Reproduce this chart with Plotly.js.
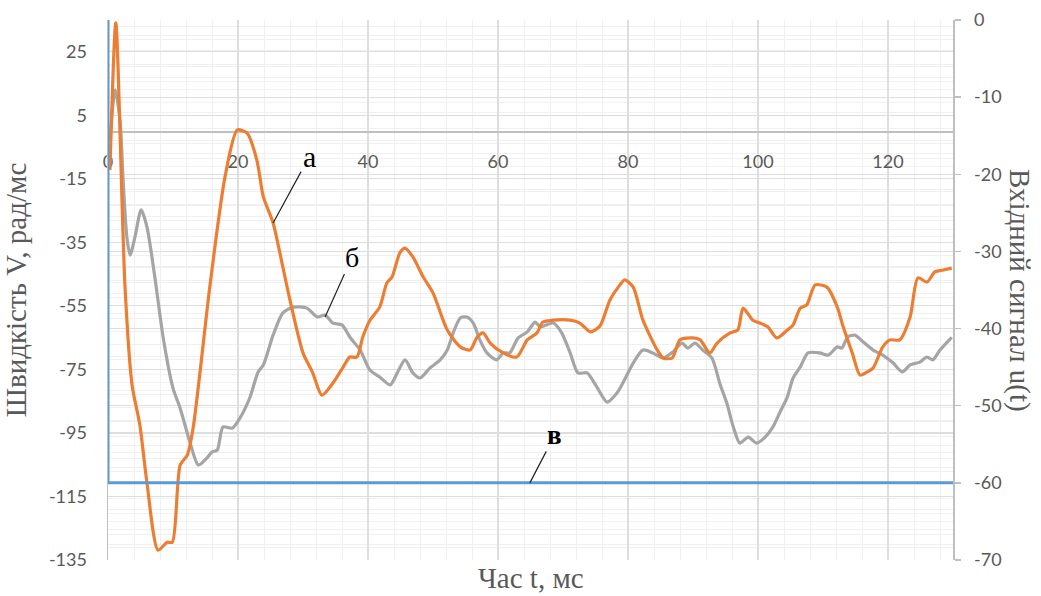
<!DOCTYPE html>
<html>
<head>
<meta charset="utf-8">
<script src="https://cdn.plot.ly/plotly-3.0.1.min.js"></script>
<style>html,body{margin:0;padding:0;background:#fff;}#chart{width:1041px;height:596px;}</style>
</head>
<body>
<div id="chart"></div>
<script>
// Series а — speed (orange), left axis
const tA = [0.3,1.2,2.6,3.7,4.9,6.0,7.7,9.1,9.9,11.1,12.2,13.1,15.7,18.0,19.9,21.4,22.9,23.9,25.4,26.9,28.0,30.0,31.5,32.9,34.6,36.2,37.2,38.3,39.2,40.3,41.8,42.9,43.7,44.9,45.7,46.9,48.5,50.0,52.2,54.2,55.7,56.8,57.7,58.8,60.8,62.9,64.5,66.0,66.9,68.5,71.1,72.6,74.2,75.7,77.2,78.5,79.5,80.8,82.3,84.5,85.4,86.8,88.0,90.0,91.1,92.6,93.7,95.7,96.9,97.7,99.2,100.3,101.5,102.9,104.5,105.4,106.5,107.5,108.8,110.6,112.2,113.1,114.5,115.7,116.8,117.7,119.2,120.3,121.8,123.4,124.6,126.0,127.2,128.5,129.8];
const vA = [-12.2,34.1,-48.4,-79.9,-92.5,-110.8,-131.9,-129.4,-129.4,-105.1,-102.0,-93.4,-48.4,-14.4,0.4,-0.6,-9.1,-20.7,-28.9,-42.8,-53.2,-69.8,-76.1,-83.1,-79.3,-74.2,-71.1,-71.1,-64.8,-59.5,-55.4,-47.8,-45.9,-38.3,-36.8,-39.6,-45.9,-50.9,-62.6,-67.9,-68.9,-64.8,-63.5,-66.7,-69.8,-71.1,-65.7,-63.5,-60.1,-59.5,-59.5,-60.4,-63.2,-61.3,-53.2,-49.1,-46.8,-49.1,-59.5,-68.9,-71.4,-71.4,-65.7,-65.1,-65.7,-69.8,-66.7,-63.5,-62.6,-55.7,-59.5,-60.4,-61.6,-65.1,-62.6,-61.0,-55.7,-54.7,-48.4,-49.1,-55.4,-61.6,-69.8,-76.8,-75.8,-74.6,-67.9,-65.7,-65.7,-58.5,-46.2,-47.5,-44.3,-43.7,-43.1];

// Series б — speed (grey), left axis
const tB = [0.3,1.1,1.85,2.3,2.9,3.4,4.15,5.1,6.0,7.2,8.5,10.0,11.1,12.6,13.9,15.2,16.0,16.8,17.7,19.1,20.3,21.8,23.1,23.9,25.4,26.9,28.5,30.6,32.2,33.4,34.6,36.0,37.2,38.8,40.3,41.8,43.4,44.5,45.7,46.9,48.0,49.5,51.1,52.2,53.1,54.2,55.2,56.2,57.2,58.3,59.8,60.8,61.8,63.1,64.5,65.7,66.5,68.5,69.8,71.1,72.3,73.7,75.2,76.8,78.3,79.2,80.8,82.3,83.8,85.4,86.9,88.3,89.2,90.3,91.5,92.9,94.2,95.2,96.2,97.2,98.5,99.8,101.1,102.3,103.4,104.5,105.4,106.5,107.7,109.5,110.8,112.2,112.9,113.8,114.9,116.2,117.7,119.2,120.8,122.2,123.4,124.9,126.0,126.9,128.0,129.8];
const vB = [-2.8,13.0,3.5,-14.4,-33.3,-39.0,-33.3,-24.8,-30.2,-45.9,-65.1,-80.9,-87.2,-97.9,-105.1,-102.9,-101.0,-100.4,-93.1,-93.5,-90.3,-84.0,-75.8,-73.6,-64.2,-57.2,-55.4,-55.7,-58.5,-57.9,-60.4,-61.0,-64.8,-68.9,-75.2,-77.4,-79.9,-76.1,-72.0,-76.1,-77.7,-74.6,-72.0,-68.9,-63.5,-58.8,-58.5,-60.4,-65.7,-69.8,-72.0,-69.8,-69.8,-65.1,-63.2,-60.1,-61.6,-60.4,-63.5,-69.8,-76.1,-76.1,-80.5,-85.3,-82.4,-79.3,-73.0,-68.9,-69.8,-71.4,-69.5,-66.7,-68.3,-66.7,-68.9,-71.4,-79.9,-85.6,-93.1,-98.2,-96.3,-98.2,-96.3,-93.1,-88.4,-83.7,-77.7,-74.2,-69.8,-69.8,-70.5,-67.9,-68.3,-64.8,-64.2,-66.4,-68.9,-70.5,-73.0,-75.8,-73.6,-72.7,-71.1,-72.0,-68.9,-64.9];

// Series в — input signal u(t), right axis
const tC = [0, 0, 130];
const uC = [0, -60, -60];

// Axis tick values
const xTicks = [0, 20, 40, 60, 80, 100, 120];
const yTicks = [-135, -115, -95, -75, -55, -35, -15, 5, 25];
const y2Ticks = [-70, -60, -50, -40, -30, -20, -10, 0];

// Labels
const labelA = 'а', labelB = 'б', labelC = 'в';
const xTitle = 'Час t, мс';
const yTitle = 'Швидкість V, рад/мс';
const y2Title = 'Вхідний сигнал u(t)';

const serif = '"Liberation Serif", "DejaVu Serif", serif';
const sans = 'Lato, "Open Sans", sans-serif';
const textGrey = '#595959';
const majorGrid = '#dedede', minorGrid = '#f0f0f0';

const traces = [
  {x: tC, y: uC, yaxis: 'y2', type: 'scatter', mode: 'lines', line: {color: '#5b9bd5', width: 3}, hoverinfo: 'skip'},
  {x: tB, y: vB, type: 'scatter', mode: 'lines', line: {color: '#a5a5a5', width: 3.2, shape: 'spline', smoothing: 0.7}},
  {x: tA, y: vA, type: 'scatter', mode: 'lines', line: {color: '#ed7d31', width: 3.2, shape: 'spline', smoothing: 0.7}}
];

const layout = {
  width: 1041, height: 596,
  margin: {l: 108, r: 88, t: 20, b: 36},
  paper_bgcolor: '#fff', plot_bgcolor: '#fff',
  showlegend: false,
  font: {family: sans, color: textGrey, size: 18},
  xaxis: {
    range: [0, 130], tickmode: 'array', tickvals: xTicks, ticktext: xTicks.map(String),
    anchor: 'free', position: 135/170,
    showline: true, linecolor: '#bfbfbf', linewidth: 1.5,
    showgrid: true, gridcolor: majorGrid, gridwidth: 1.2,
    minor: {dtick: 4, tick0: 0, showgrid: true, gridcolor: minorGrid, gridwidth: 1},
    zeroline: false, ticks: '', ticklabelstandoff: 14,
    tickfont: {family: sans, size: 18, color: textGrey},
    layer: 'below traces'
  },
  yaxis: {
    range: [-135, 35], tickmode: 'array', tickvals: yTicks, ticktext: yTicks.map(String),
    showline: true, linecolor: '#bfbfbf', linewidth: 1.5,
    showgrid: true, gridcolor: majorGrid, gridwidth: 1.2,
    minor: {dtick: 4, tick0: -135, showgrid: true, gridcolor: minorGrid, gridwidth: 1},
    zeroline: false, ticks: '', ticklabelstandoff: 16,
    tickfont: {family: sans, size: 18, color: textGrey},
    title: {text: yTitle, font: {family: serif, size: 29, color: textGrey}, standoff: 22}
  },
  yaxis2: {
    overlaying: 'y', side: 'right',
    range: [-70, 0], tickmode: 'array', tickvals: y2Ticks, ticktext: y2Ticks.map(String),
    showline: true, linecolor: '#bfbfbf', linewidth: 1.5,
    showgrid: true, gridcolor: majorGrid, gridwidth: 1.2,
    minor: {dtick: 2, tick0: -70, showgrid: true, gridcolor: minorGrid, gridwidth: 1},
    zeroline: false, ticks: 'outside', ticklen: 6, tickcolor: '#bfbfbf', tickwidth: 1.5,
    ticklabelstandoff: 10,
    tickfont: {family: sans, size: 18, color: textGrey}
  },
  annotations: [
    {xref: 'paper', yref: 'paper', x: 0.5, y: 0, yshift: -18, xanchor: 'center', yanchor: 'middle',
     text: xTitle, showarrow: false, font: {family: serif, size: 29, color: textGrey}},
    {xref: 'paper', yref: 'paper', x: 1, y: 0.5, xshift: 67, xanchor: 'center', yanchor: 'middle', textangle: 90,
     text: y2Title, showarrow: false, font: {family: serif, size: 29, color: textGrey}},
    {x: 25.4, y: -28.9, xref: 'x', yref: 'y', text: labelA, showarrow: true, arrowhead: 0, arrowwidth: 1.2, arrowcolor: '#222',
     ax: 36, ay: -66, font: {family: serif, size: 30, color: '#000'}},
    {x: 33.4, y: -58.5, xref: 'x', yref: 'y', text: labelB, showarrow: true, arrowhead: 0, arrowwidth: 1.2, arrowcolor: '#222',
     ax: 27, ay: -60, font: {family: serif, size: 28, color: '#000'}},
    {x: 64.9, y: -60, xref: 'x', yref: 'y2', text: '<b>' + labelC + '</b>', showarrow: true, arrowhead: 0, arrowwidth: 1.2, arrowcolor: '#222',
     ax: 25, ay: -48, font: {family: serif, size: 27, color: '#000'}}
  ]
};

Plotly.newPlot('chart', traces, layout, {staticPlot: true, displayModeBar: false});
</script>
</body>
</html>
